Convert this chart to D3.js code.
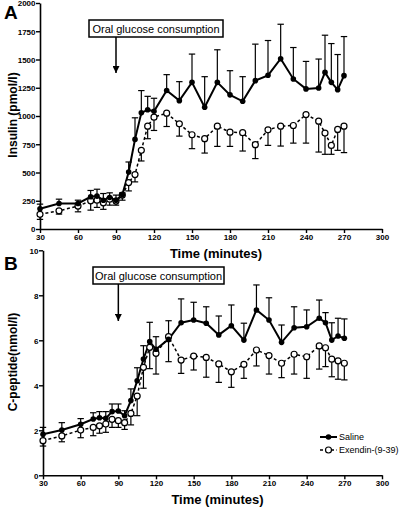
<!DOCTYPE html>
<html><head><meta charset="utf-8">
<script src="https://cdn.jsdelivr.net/npm/d3@7"></script>
<style>body{margin:0;background:#fff}svg{display:block;font-family:"Liberation Sans",Arial,sans-serif}</style>
</head><body><svg id="c" width="400" height="507"></svg>
<script>
const times = [30,45,60,70,75,80,85,90,95,100,105,110,115,120,130,140,150,160,170,180,190,200,210,220,230,240,250,255,260,265,270];
const salineIns = [179,226,226,285,291,255,279,255,302,505,793,1028,1055,1042,1225,1136,1298,1077,1298,1187,1130,1313,1360,1507,1328,1240,1248,1386,1298,1233,1357];
const salineInsSem = [41,38,29,56,61,59,41,45,18,88,191,197,119,115,141,168,250,271,288,214,218,323,308,305,278,243,256,329,343,311,346];
const exIns = [130,161,203,249,255,232,264,247,300,411,482,696,910,990,1025,931,834,799,910,857,852,746,878,910,916,1013,954,849,740,881,910];
const exInsSem = [45,29,51,82,64,58,53,36,45,74,65,94,111,118,118,109,123,127,179,126,162,123,138,176,156,253,273,188,79,185,234];
const salineCp = [1.82,2.01,2.27,2.50,2.56,2.53,2.83,2.86,2.65,3.32,4.2,5.17,5.94,5.6,6.04,6.78,6.90,6.76,6.24,6.65,6.01,7.35,6.90,5.91,6.56,6.60,6.98,6.78,6.01,6.19,6.09];
const salineCpSem = [0.31,0.33,0.25,0.28,0.27,0.30,0.34,0.31,0.22,0.52,0.58,0.59,0.86,0.56,0.83,1.06,0.79,0.73,0.84,0.92,0.75,1.11,0.99,0.77,0.93,0.75,0.81,0.45,0.77,0.79,0.86];
const exCp = [1.54,1.75,2.01,2.13,2.20,2.28,2.49,2.43,2.34,2.75,3.52,4.8,5.69,5.42,6.16,5.12,5.30,5.24,4.95,4.60,4.93,5.57,5.32,4.98,5.38,5.27,5.75,5.67,5.16,5.09,4.98];
const exCpSem = [0.24,0.26,0.34,0.37,0.33,0.37,0.36,0.30,0.30,0.51,0.87,0.93,0.95,0.92,1.11,0.59,0.62,0.88,0.82,0.69,0.62,0.71,0.82,0.64,0.88,0.96,1.03,0.84,0.78,0.82,0.74];
const xTicks = [30,60,90,120,150,180,210,240,270,300];
const insTicks = [0,250,500,750,1000,1250,1500,1750,2000];
const cpTicks = [0,2,4,6,8,10];
const seriesNames = ["Saline","Exendin-(9-39)"];
const annotation = "Oral glucose consumption";
const annotationTime = 90;

const svg = d3.select("#c");
svg.append("defs").append("marker").attr("id","ah").attr("viewBox","0 0 10 10")
  .attr("refX",10).attr("refY",5).attr("markerWidth",7).attr("markerHeight",7)
  .attr("markerUnits","userSpaceOnUse").attr("orient","auto")
  .append("path").attr("d","M0,0L10,5L0,10Z").attr("fill","#000");

function panel(cfg){
  const x = d3.scaleLinear().domain([30,300]).range(cfg.xr);
  const y = d3.scaleLinear().domain(cfg.yd).range(cfg.yr);
  const g = svg.append("g");
  const xa = g.append("g").attr("transform",`translate(0,${cfg.yr[0]})`)
    .call(d3.axisBottom(x).tickValues(xTicks).tickFormat(d3.format("d")).tickSize(4).tickSizeOuter(0));
  const ya = g.append("g").attr("transform",`translate(${cfg.xr[0]},0)`)
    .call(d3.axisLeft(y).tickValues(cfg.yt).tickFormat(d3.format("d")).tickSize(4).tickSizeOuter(0));
  [xa,ya].forEach(a=>{
    a.select(".domain").attr("stroke","#000").attr("stroke-width",1.6);
    a.selectAll(".tick line").attr("stroke","#000").attr("stroke-width",1.4);
    a.selectAll("text").attr("font-size",8).attr("font-weight","bold").attr("fill","#000")
      .attr("font-family","'Liberation Sans',Arial,sans-serif");
  });
  xa.selectAll("text").attr("y",5).attr("dy","0.75em");
  ya.selectAll("text").attr("x",-4.5).attr("dy","0.35em");
  g.append("text").attr("x",(cfg.xr[0]+cfg.xr[1])/2+5).attr("y",cfg.yr[0]+29)
    .attr("text-anchor","middle").attr("font-size",13).attr("font-weight","bold").text("Time (minutes)");
  g.append("text").attr("transform",`translate(17,${cfg.ymid}) rotate(-90)`)
    .attr("text-anchor","middle").attr("font-size",12).attr("font-weight","bold").text(cfg.ylab);
  g.append("text").attr("x",4).attr("y",cfg.letterY).attr("font-size",19).attr("font-weight","bold").text(cfg.letter);

  const cap = 3.2;
  function bars(vals, sem, dir){
    const eg = g.append("g").attr("stroke","#000").attr("stroke-width",1.2).attr("fill","none");
    times.forEach((t,i)=>{
      const x0 = x(t), y0 = y(vals[i]), y1 = y(vals[i] + dir*sem[i]);
      eg.append("line").attr("x1",x0).attr("x2",x0).attr("y1",y0).attr("y2",y1);
      eg.append("line").attr("x1",x0-cap).attr("x2",x0+cap).attr("y1",y1).attr("y2",y1);
    });
  }
  bars(cfg.sal, cfg.salSem, 1);
  bars(cfg.ex, cfg.exSem, -1);
  const line = d3.line().x((d,i)=>x(times[i])).y(d=>y(d));
  g.append("path").datum(cfg.ex).attr("d",line).attr("fill","none").attr("stroke","#000")
    .attr("stroke-width",1.5).attr("stroke-dasharray","3,2.5");
  g.append("path").datum(cfg.sal).attr("d",line).attr("fill","none").attr("stroke","#000").attr("stroke-width",2);
  g.selectAll(".ex").data(cfg.ex).join("circle").attr("cx",(d,i)=>x(times[i])).attr("cy",d=>y(d))
    .attr("r",3).attr("fill","#fff").attr("stroke","#000").attr("stroke-width",1.2);
  g.selectAll(".sa").data(cfg.sal).join("circle").attr("cx",(d,i)=>x(times[i])).attr("cy",d=>y(d))
    .attr("r",2.8).attr("fill","#000");

  const bx = cfg.box;
  g.append("rect").attr("x",bx[0]).attr("y",bx[1]).attr("width",bx[2]).attr("height",bx[3])
    .attr("fill","#fff").attr("stroke","#000").attr("stroke-width",1.5);
  g.append("text").attr("x",bx[0]+bx[2]/2).attr("y",bx[1]+bx[3]/2+4).attr("text-anchor","middle")
    .attr("font-size",11).text(annotation);
  g.append("line").attr("x1",x(annotationTime)).attr("x2",x(annotationTime)).attr("y1",bx[1]+bx[3])
    .attr("y2",cfg.arrowEnd).attr("stroke","#000").attr("stroke-width",1.5).attr("marker-end","url(#ah)");
}

panel({xr:[40,382], yd:[0,2000], yr:[229,3], yt:insTicks, ylab:"Insulin (pmol/l)", ymid:115, letter:"A", letterY:19,
  sal:salineIns, salSem:salineInsSem, ex:exIns, exSem:exInsSem, box:[89,20,134,17], arrowEnd:73});
panel({xr:[43,382], yd:[0,10], yr:[475.3,250.3], yt:cpTicks, ylab:"C-peptide(nmol/l)", ymid:362, letter:"B", letterY:270,
  sal:salineCp, salSem:salineCpSem, ex:exCp, exSem:exCpSem, box:[93,267,131,17], arrowEnd:321});

const lg = svg.append("g");
[[437,0],[450,1]].forEach(([yy,k])=>{
  lg.append("line").attr("x1",320).attr("x2",337).attr("y1",yy).attr("y2",yy).attr("stroke","#000")
    .attr("stroke-width",k?1.5:2).attr("stroke-dasharray",k?"3,2.5":null);
  lg.append("circle").attr("cx",328.5).attr("cy",yy).attr("r",k?3:2.8).attr("fill",k?"#fff":"#000")
    .attr("stroke","#000").attr("stroke-width",k?1.2:0);
  lg.append("text").attr("x",339).attr("y",yy+3.3).attr("font-size",9).text(seriesNames[k]);
});
</script></body></html>
